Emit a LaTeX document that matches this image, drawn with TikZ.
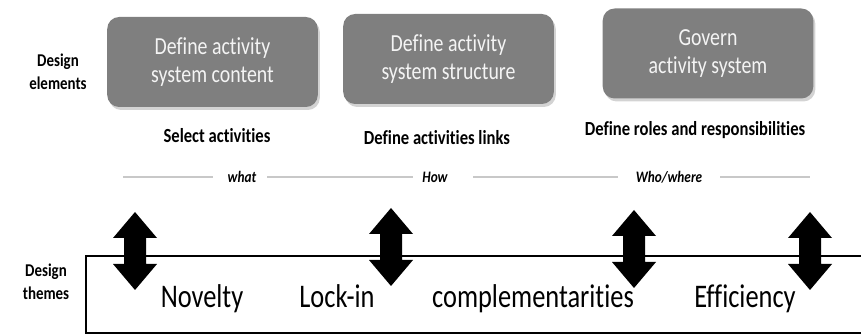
\documentclass[tikz,border=0pt]{standalone}
\usepackage{fontspec}
\setmainfont{Carlito}[Ligatures=NoCommon]
\usetikzlibrary{shadows}
\definecolor{boxgray}{HTML}{7F7F7F}
\definecolor{boxtext}{HTML}{F4F4F4}
\definecolor{sepgray}{HTML}{C8C8C8}
\tikzset{
  elembox/.style={fill=boxgray, rounded corners=12pt, minimum width=260pt, minimum height=90pt,
    xscale=0.81, align=center, text=boxtext, font=\fontsize{24.5}{28}\selectfont,
    drop shadow={opacity=0.35, shadow xshift=2pt, shadow yshift=-3pt}},
  sidelabel/.style={font=\fontsize{18}{22.5}\selectfont\bfseries, align=center, inner sep=0pt, xscale=0.83},
  actlabel/.style={font=\fontsize{20}{24}\selectfont\bfseries, anchor=base, inner sep=0pt, xscale=0.83},
  qlabel/.style={font=\fontsize{16}{19}\selectfont\bfseries\itshape, anchor=base, inner sep=0pt, xscale=0.83},
  themelabel/.style={font=\fontsize{33}{38}\selectfont, anchor=base, inner sep=0pt, xscale=0.8},
  sepline/.style={draw=sepgray, line width=2pt},
  themeframe/.style={draw=black, line width=2pt},
  dblarrow/.pic={\fill[black] (0,-39) -- (22,-13) -- (11,-13) -- (11,13) -- (22,13) -- (0,39)
      -- (-22,13) -- (-11,13) -- (-11,-13) -- (-22,-13) -- cycle;}
}
\begin{document}
\begin{tikzpicture}[x=1pt,y=-1pt]
\useasboundingbox (0,0) rectangle (861,336);
% design elements
\node[elembox] (b1) at (212.5,62) {Define activity\\system content};
\node[elembox] (b2) at (448.5,59) {Define activity\\system structure};
\node[elembox] (b3) at (708,53.5) {Govern\\activity system};
\node[sidelabel] (de) at (58,72) {Design\\elements};
% activities
\node[actlabel] (s1) at (217,143) {Select activities};
\node[actlabel] (s2) at (437,145) {Define activities links};
\node[actlabel] (s3) at (695,136) {Define roles and responsibilities};
% separator
\node[qlabel] (qwhat) at (242,183) {what};
\node[qlabel] (qhow) at (435,183) {How};
\node[qlabel] (qwho) at (669,183) {Who/where};
\coordinate (l1a) at (123,177); \coordinate (l1b) at (213,177);
\coordinate (l2a) at (267,177); \coordinate (l2b) at (413,177);
\coordinate (l3a) at (473,177); \coordinate (l3b) at (618,177);
\coordinate (l4a) at (720,177); \coordinate (l4b) at (810,177);
\draw[sepline] (l1a) -- (l1b);
\draw[sepline] (l2a) -- (l2b);
\draw[sepline] (l3a) -- (l3b);
\draw[sepline] (l4a) -- (l4b);
% themes frame
\coordinate (fr1) at (861,256); \coordinate (fr2) at (86,256);
\coordinate (fr3) at (86,333); \coordinate (fr4) at (861,333);
\draw[themeframe] (fr1) -- (fr2) -- (fr3) -- (fr4);
\node[sidelabel] (dt) at (46,282) {Design\\themes};
\node[themelabel] (t1) at (202,308) {Novelty};
\node[themelabel] (t2) at (337,308) {Lock-in};
\node[themelabel] (t3) at (533,308) {complementarities};
\node[themelabel] (t4) at (745,308) {Efficiency};
% arrows
\pic at (135,251) {dblarrow};
\pic at (391,247) {dblarrow};
\pic at (634,249) {dblarrow};
\pic at (810,251) {dblarrow};
\end{tikzpicture}
\end{document}
